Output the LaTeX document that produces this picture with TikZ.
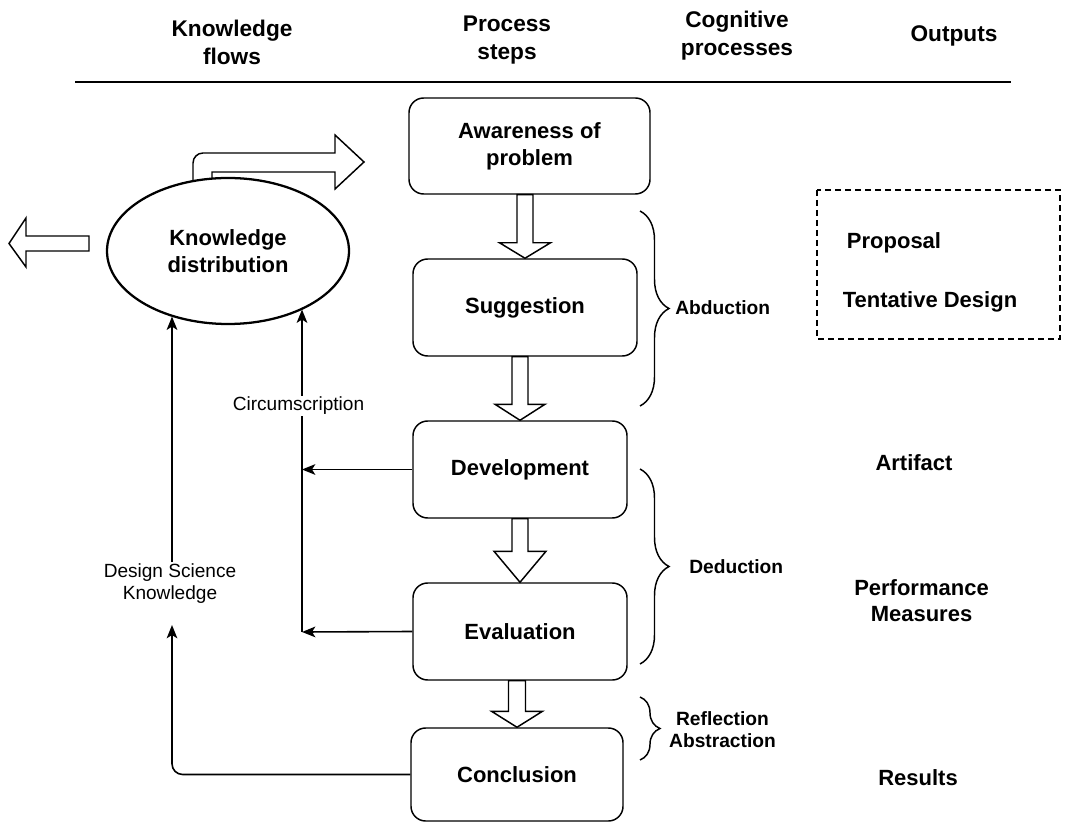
\documentclass[tikz,border=0pt]{standalone}
\usepackage{fontspec}
\setmainfont{Liberation Sans}
\usetikzlibrary{shapes.geometric,arrows.meta,calc,decorations.pathreplacing}

% hollow block arrow pointing down from node #1 to node #2
% #3 shaft half width, #4 head half width, #5 head length
\newcommand\fatdown[5]{%
  \draw[fat] ($(#2.north |- #1.south)+(-#3,0)$) -- ($(#2.north |- #1.south)+(#3,0)$)
    -- ($(#2.north)+(#3,-#5)$) -- ($(#2.north)+(#4,-#5)$) -- (#2.north)
    -- ($(#2.north)+(-#4,-#5)$) -- ($(#2.north)+(-#3,-#5)$) -- cycle;}

\begin{document}
\begin{tikzpicture}[x=0.75pt,y=-0.75pt,
  stepbox/.style={draw, line width=1.1pt, rounded corners=11pt, fill=white,
    font=\fontsize{16.5}{20.5}\selectfont\bfseries, align=center, inner sep=0pt},
  head/.style={font=\fontsize{17}{21}\selectfont\bfseries, align=center, inner sep=0pt},
  outlbl/.style={font=\fontsize{16.5}{19}\selectfont\bfseries, align=center, inner sep=0pt},
  coglbl/.style={font=\fontsize{14.4}{17}\selectfont\bfseries, align=center, inner sep=0pt},
  flowlbl/.style={font=\fontsize{14.3}{16.5}\selectfont, align=center, inner sep=1pt},
  link/.style={line width=1.2pt, -{Stealth[length=10pt,width=8pt,inset=2.5pt]}},
  fat/.style={draw, line width=1.1pt, fill=white, line join=miter},
  cbrace/.style={draw, line width=1.1pt, decorate, decoration={brace, amplitude=#1}},
]
\useasboundingbox (0,0) rectangle (1067,823);

% column headings
\node[head] (h1) at (232,42) {Knowledge\\flows};
\node[head] (h2) at (507,40) {Process\\steps};
\node[head] (h3) at (737,36) {Cognitive\\processes};
\node[head, anchor=base] (h4) at (954,42) {Outputs};
\draw[line width=1.1pt] (75,82) -- (1011,82);

% outgoing knowledge arrows
\draw[fat] (193,215) [rounded corners=7.5pt] -- (193,153) [sharp corners] -- (335,153)
  -- (335,135) -- (364,162) -- (335,189) -- (335,172) -- (212,172) -- (212,215) -- cycle;
\draw[fat] (89,236) -- (26,236) -- (26,218) -- (9,243.5) -- (26,267) -- (26,251) -- (89,251) -- cycle;

\node[draw, ellipse, line width=1.7pt, fill=white, minimum width=181.5pt, minimum height=109.5pt,
  inner sep=0pt, align=center, font=\fontsize{16.5}{20}\selectfont\bfseries]
  (ell) at (228,251) {Knowledge\\distribution};

% process steps
\node[stepbox, minimum width=180.75pt, minimum height=72pt] (aware) at (529.5,146) {Awareness of\\problem};
\node[stepbox, minimum width=168pt, minimum height=72.75pt] (sugg) at (525,307.5) {Suggestion};
\node[stepbox, minimum width=160.5pt, minimum height=72.75pt] (dev) at (520,469.5) {Development};
\node[stepbox, minimum width=160.5pt, minimum height=72.75pt] (eval) at (520,631.5) {Evaluation};
\node[stepbox, minimum width=159pt, minimum height=69.75pt] (concl) at (517,774.5) {Conclusion};

\fatdown{aware}{sugg}{8}{25.5}{15.5}
\fatdown{sugg}{dev}{8}{25}{16}
\fatdown{dev}{eval}{8}{26}{31}
\fatdown{eval}{concl}{8.5}{25.5}{16}

% knowledge flows back to distribution
\coordinate (dsin) at (172,625);
\coordinate (dsout) at (172,562);
\coordinate (cbot) at (302,632);
\draw[link, rounded corners=8pt] (concl.west) -| (dsin);
\draw[link] (dsout) -- (dsout |- ell.229);
\node[flowlbl] (dsk) at (170,584) {Design Science\\Knowledge};

\draw[link] (cbot) -- (cbot |- ell.322);
\node[flowlbl, fill=white] (circ) at (298.5,406) {Circumscription};
\draw[link] (dev.west) -- (dev.west -| cbot);
\draw[link] (eval.west) -- (cbot);

% cognitive processes
\draw[cbrace=21.75pt] (640,211) -- (640,406);
\draw[cbrace=21.75pt] (640,469) -- (640,664);
\draw[cbrace=15pt] (640,697) -- (640,760);
\node[coglbl, anchor=west] (abd) at (675,308) {Abduction};
\node[coglbl, anchor=west] (ded) at (689,567) {Deduction};
\node[coglbl] (refl) at (722.5,729.5) {Reflection\\Abstraction};

% outputs
\draw[line width=1.1pt, dash pattern=on 4.5pt off 3pt] (817,190) rectangle (1060,339);
\node[outlbl] (prop) at (894,243) {Proposal};
\node[outlbl] (tent) at (930,302) {Tentative Design};
\node[outlbl] (art) at (914,463) {Artifact};
\node[outlbl] (perf) at (921.5,600.5) {Performance\\Measures};
\node[outlbl] (res) at (918,778) {Results};
\end{tikzpicture}
\end{document}
